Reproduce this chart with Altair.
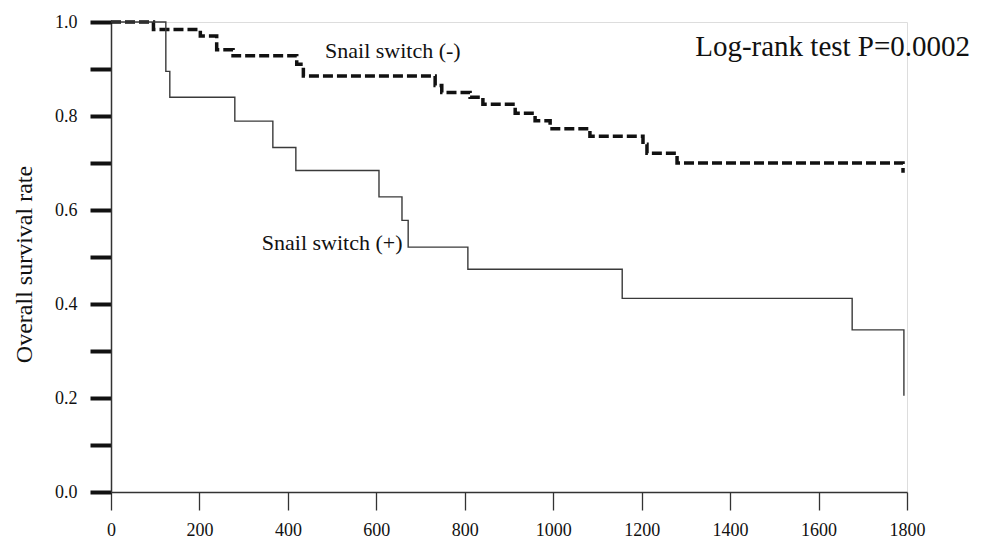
import altair as alt
import pandas as pd

# Snail switch (-) : Kaplan-Meier steps (days, survival)
neg_days = [0, 96, 202, 239, 276, 420, 435, 733, 748, 812, 841, 914, 959, 993, 1083, 1203, 1212, 1280, 1791]
neg_surv = [1.0, 0.984, 0.970, 0.941, 0.928, 0.910, 0.885, 0.865, 0.850, 0.840, 0.825, 0.806, 0.790, 0.773, 0.757, 0.740, 0.721, 0.700, 0.679]

# Snail switch (+)
pos_days = [0, 124, 133, 280, 366, 418, 606, 658, 672, 807, 1156, 1676, 1793]
pos_surv = [1.0, 0.895, 0.840, 0.789, 0.733, 0.684, 0.628, 0.578, 0.521, 0.474, 0.412, 0.345, 0.205]

# annotations
ann_text = ["Snail switch (-)", "Snail switch (+)", "Log-rank test P=0.0002"]
ann_x = [484, 341, 1321]
ann_y = [0.924, 0.515, 0.927]
ann_size = [22, 22, 29]

x_ticks = [0, 200, 400, 600, 800, 1000, 1200, 1400, 1600, 1800]
y_ticks = [0.0, 0.1, 0.2, 0.3, 0.4, 0.5, 0.6, 0.7, 0.8, 0.9, 1.0]

FONT = "Liberation Serif"

neg_df = pd.DataFrame({"day": neg_days, "surv": neg_surv})
pos_df = pd.DataFrame({"day": pos_days, "surv": pos_surv})

x_enc = alt.X(
    "day:Q",
    scale=alt.Scale(domain=[0, 1800], nice=False, zero=False),
    axis=alt.Axis(
        values=x_ticks, title=None, grid=False, format="d",
        tickSize=18, tickWidth=1.3, tickColor="#333",
        domainColor="#333", domainWidth=1.5,
        labelFont=FONT, labelFontSize=18, labelColor="#111",
        labelPadding=11, labelFlush=False, labelOverlap=False,
    ),
)
y_enc = alt.Y(
    "surv:Q",
    scale=alt.Scale(domain=[0, 1], nice=False),
    axis=alt.Axis(
        values=y_ticks, grid=False,
        labelExpr="abs(round(datum.value*10)) % 2 == 0 ? format(datum.value, '.1f') : ''",
        tickSize=21, tickWidth=4, tickColor="#111",
        domainColor="#333", domainWidth=1.5,
        labelFont=FONT, labelFontSize=18, labelColor="#111",
        labelPadding=13, labelOverlap=False, labelFlush=False,
        title="Overall survival rate", titleFont=FONT, titleFontSize=24,
        titleFontWeight="normal", titleColor="#111",
        titleAngle=270, titleAlign="center", titleBaseline="alphabetic",
        titleX=-80, titleY=242,
    ),
)

neg_line = alt.Chart(neg_df).mark_line(
    interpolate="step-after", color="#111", strokeWidth=3.5, strokeDash=[10, 4]
).encode(x=x_enc, y=y_enc)

pos_line = alt.Chart(pos_df).mark_line(
    interpolate="step-after", color="#3a3a3a", strokeWidth=1.4
).encode(x=x_enc, y=y_enc)

layers = [neg_line, pos_line]
for t, xv, yv, s in zip(ann_text, ann_x, ann_y, ann_size):
    d = pd.DataFrame({"day": [xv], "surv": [yv], "label": [t]})
    layers.append(
        alt.Chart(d).mark_text(
            align="left", baseline="alphabetic", font=FONT, fontSize=s, color="#111"
        ).encode(x=x_enc, y=y_enc, text="label:N")
    )

chart = alt.layer(*layers).properties(
    width=796, height=470,
    padding={"left": 103, "top": 14, "right": 66, "bottom": 51},
    autosize=alt.AutoSizeParams(type="none"),
).configure_view(stroke=None).configure(background="white")

chart.save("out.html", embed_options={"renderer": "svg", "actions": False})
